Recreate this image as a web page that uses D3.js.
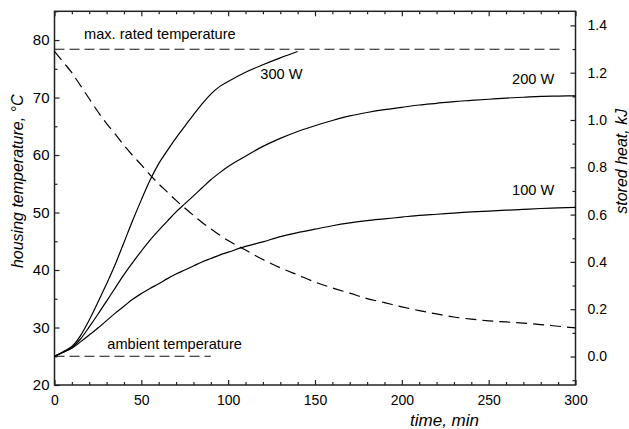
<!DOCTYPE html>
<html lang="en">
  <head>
    <meta charset="UTF-8" />
    <title>Housing temperature and stored heat</title>
    <style>
      body {
        margin: 0;
        background: #fff;
      }
      svg text {
        font-family: "Liberation Sans", Arial, sans-serif;
        fill: #000;
      }
      .axis text {
        font-size: 14px;
      }
      .axis.left text {
        font-size: 15px;
      }
      .axis path {
        display: none;
      }
      .axis line {
        stroke: #222;
        stroke-width: 1.2;
      }
      .title {
        font-size: 16px;
        font-style: italic;
      }
      .note {
        font-size: 14.6px;
      }
    </style>
    <script src="https://d3js.org/d3.v7.min.js"></script>
  </head>
  <body>
    <div id="chart"></div>
    <script>
      // time grid (min) shared by the 100 W, 200 W and stored heat curves
      const timeMin = [
        0, 5, 10, 15, 20, 25, 30, 35, 40, 45, 50, 55, 60, 65, 70, 75, 80, 85,
        90, 95, 100, 110, 120, 130, 140, 150, 160, 170, 180, 190, 200, 210,
        220, 230, 240, 250, 260, 270, 280, 290, 300,
      ];
      // 300 W stops at the max rated temperature
      const time300 = [
        0, 5, 10, 15, 20, 25, 30, 35, 40, 45, 50, 55, 60, 65, 70, 75, 80, 85,
        90, 95, 100, 110, 120, 130, 140,
      ];
      const temp300 = [
        25, 25.8, 26.7, 28.6, 31.3, 34.4, 37.6, 41, 44.8, 48.6, 52.2, 55.6,
        58.5, 60.8, 63, 65, 67, 68.9, 70.6, 71.9, 72.8, 74.4, 75.7, 76.9, 78,
      ];
      const temp200 = [
        25, 25.7, 26.5, 28, 30.1, 32.3, 34.6, 36.9, 39.2, 41.3, 43.3, 45.2,
        46.9, 48.5, 50.1, 51.5, 52.9, 54.3, 55.7, 56.9, 58, 59.8, 61.5, 62.9,
        64.1, 65.1, 66, 66.8, 67.4, 67.9, 68.3, 68.7, 69, 69.3, 69.5, 69.7,
        69.9, 70.05, 70.2, 70.25, 70.3,
      ];
      const temp100 = [
        25, 25.7, 26.4, 27.5, 28.7, 29.9, 31.2, 32.5, 33.7, 34.9, 35.9, 36.8,
        37.6, 38.5, 39.3, 40, 40.7, 41.4, 42, 42.6, 43.1, 44.1, 44.9, 45.8,
        46.5, 47.1, 47.7, 48.2, 48.6, 48.9, 49.2, 49.5, 49.7, 49.9, 50.1,
        50.25, 50.4, 50.55, 50.7, 50.8, 50.9,
      ];
      const storedHeat = [
        1.29, 1.245, 1.2, 1.145, 1.09, 1.035, 0.985, 0.94, 0.893, 0.85, 0.81,
        0.768, 0.73, 0.695, 0.66, 0.628, 0.597, 0.567, 0.54, 0.514, 0.49,
        0.45, 0.41, 0.375, 0.345, 0.315, 0.29, 0.268, 0.245, 0.228, 0.21,
        0.194, 0.18, 0.167, 0.158, 0.151, 0.146, 0.141, 0.135, 0.128, 0.121,
      ];
      const maxRated = { temp: 78.4, from: 0, to: 291 };
      const ambient = { temp: 25, from: 0, to: 90 };

      const xTicks = [0, 50, 100, 150, 200, 250, 300];
      const yTicks = [20, 30, 40, 50, 60, 70, 80];
      const y2Ticks = [0, 0.2, 0.4, 0.6, 0.8, 1.0, 1.2, 1.4];

      const W = 629,
        H = 429;
      const margin = { top: 11.3, right: 53.5, bottom: 44, left: 54.5 };
      const width = W - margin.left - margin.right;
      const height = H - margin.top - margin.bottom;

      const svg = d3
        .select("#chart")
        .append("svg")
        .attr("width", W)
        .attr("height", H)
        .append("g")
        .attr("transform", `translate(${margin.left},${margin.top})`);

      const x = d3.scaleLinear().domain([0, 300]).range([0, width]);
      const y = d3.scaleLinear().domain([20, 85]).range([height, 0]);
      const y2 = d3.scaleLinear().domain([-0.1205, 1.4596]).range([height, 0]);

      const minorX = d3.range(0, 301, 10).filter((d) => d % 50 !== 0);
      const minorY = d3.range(25, 86, 10);
      const minorY2 = [-0.1, 0.1, 0.3, 0.5, 0.7, 0.9, 1.1, 1.3];

      // bottom axis
      svg
        .append("g")
        .attr("class", "axis")
        .attr("transform", `translate(0,${height})`)
        .call(d3.axisBottom(x).tickValues(xTicks).tickSize(-5).tickPadding(10));
      svg
        .append("g")
        .attr("class", "axis")
        .attr("transform", `translate(0,${height})`)
        .call(d3.axisBottom(x).tickValues(minorX).tickFormat("").tickSize(-3));
      // top axis (ticks only)
      svg
        .append("g")
        .attr("class", "axis")
        .call(d3.axisTop(x).tickValues(xTicks).tickFormat("").tickSize(-5));
      svg
        .append("g")
        .attr("class", "axis")
        .call(d3.axisTop(x).tickValues(minorX).tickFormat("").tickSize(-3));
      // left axis
      svg
        .append("g")
        .attr("class", "axis left")
        .call(d3.axisLeft(y).tickValues(yTicks).tickSize(-5).tickPadding(5));
      svg
        .append("g")
        .attr("class", "axis")
        .call(d3.axisLeft(y).tickValues(minorY).tickFormat("").tickSize(-3));
      // right axis
      svg
        .append("g")
        .attr("class", "axis")
        .attr("transform", `translate(${width},0)`)
        .call(
          d3
            .axisRight(y2)
            .tickValues(y2Ticks)
            .tickFormat(d3.format(".1f"))
            .tickSize(-5)
            .tickPadding(12)
        );
      svg
        .append("g")
        .attr("class", "axis")
        .attr("transform", `translate(${width},0)`)
        .call(d3.axisRight(y2).tickValues(minorY2).tickFormat("").tickSize(-3));

      // frame
      svg
        .append("rect")
        .attr("width", width)
        .attr("height", height)
        .attr("fill", "none")
        .attr("stroke", "#222")
        .attr("stroke-width", 1.5);

      // reference lines
      [maxRated, ambient].forEach((r) => {
        svg
          .append("line")
          .attr("x1", x(r.from))
          .attr("x2", x(r.to))
          .attr("y1", y(r.temp))
          .attr("y2", y(r.temp))
          .attr("stroke", "#111")
          .attr("stroke-width", 1)
          .attr("stroke-dasharray", "10,5");
      });

      const lineT = d3
        .line()
        .x((d) => x(d[0]))
        .y((d) => y(d[1]))
        .curve(d3.curveMonotoneX);
      const lineH = d3
        .line()
        .x((d) => x(d[0]))
        .y((d) => y2(d[1]))
        .curve(d3.curveMonotoneX);

      const curves = [
        d3.zip(time300, temp300),
        d3.zip(timeMin, temp200),
        d3.zip(timeMin, temp100),
      ];
      curves.forEach((c) => {
        svg
          .append("path")
          .attr("d", lineT(c))
          .attr("fill", "none")
          .attr("stroke", "#000")
          .attr("stroke-width", 1.2);
      });

      svg
        .append("path")
        .attr("d", lineH(d3.zip(timeMin, storedHeat)))
        .attr("fill", "none")
        .attr("stroke", "#000")
        .attr("stroke-width", 1.2)
        .attr("stroke-dasharray", "11,6");

      // annotations
      const notes = [
        { text: "max. rated temperature", t: 17, v: 80.2 },
        { text: "300 W", t: 118.5, v: 73.3 },
        { text: "200 W", t: 263.5, v: 72.3 },
        { text: "100 W", t: 263.5, v: 53 },
        { text: "ambient temperature", t: 30.4, v: 26.2 },
      ];
      svg
        .selectAll(".note")
        .data(notes)
        .enter()
        .append("text")
        .attr("class", "note")
        .attr("x", (d) => x(d.t))
        .attr("y", (d) => y(d.v))
        .text((d) => d.text);

      // axis titles
      svg
        .append("text")
        .attr("class", "title")
        .attr("x", 444.5 - margin.left)
        .attr("y", 426 - margin.top)
        .attr("text-anchor", "middle")
        .style("font-size", "17px")
        .text("time, min");
      svg
        .append("text")
        .attr("class", "title")
        .attr("transform", `translate(${23 - margin.left},170) rotate(-90)`)
        .attr("text-anchor", "middle")
        .text("housing temperature, °C");
      svg
        .append("text")
        .attr("class", "title")
        .attr("transform", `translate(${627 - margin.left},150) rotate(-90)`)
        .attr("text-anchor", "middle")
        .text("stored heat, kJ");
    </script>
  </body>
</html>
